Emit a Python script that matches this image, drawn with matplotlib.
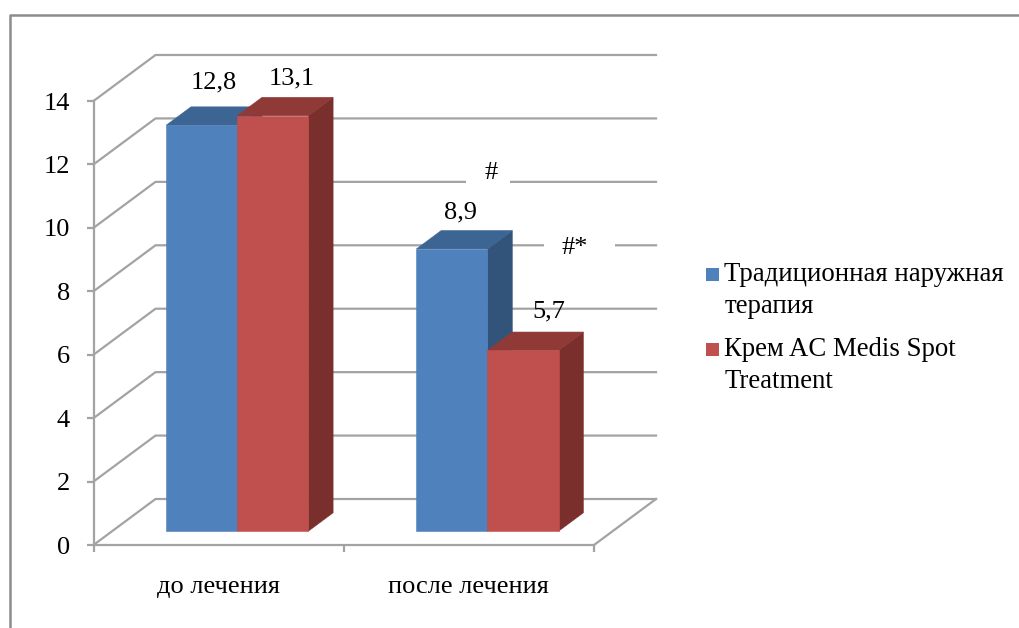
"""
Oblique pseudo-3D bar chart: two treatments before and after therapy.
"""
import matplotlib
matplotlib.use("Agg")
import matplotlib.pyplot as plt
from matplotlib.patches import Polygon, Rectangle

# ---------------------------------------------------------------------------
# Data
# ---------------------------------------------------------------------------

categories = ["до лечения", "после лечения"]
series_names = ["Традиционная наружная\nтерапия", "Крем AC Medis Spot\nTreatment"]
traditional = [12.8, 8.9]
cream = [13.1, 5.7]
y_ticks = [0, 2, 4, 6, 8, 10, 12, 14]

# ---------------------------------------------------------------------------
# Styles and layout (pixels)
# ---------------------------------------------------------------------------

W, H = 1019, 628
AX_LEFT, AX_RIGHT, AX_TOP, AX_BOTTOM = 93.5, 594, 101, 545
DEPTH_X, DEPTH_Y = 62, 46
BAR_WIDTH = 0.284
BAR_DEPTH = (0.30, 0.70)
GRAY = "#a3a3a3"
SERIF = "Liberation Serif"
FS = 19

BLUE = ("#4f81bd", "#3d6594", "#32547b")
RED = ("#c0504d", "#8f3a37", "#7a2f2d")

# label offsets from the front top centre of each bar, pixels
label_offsets = [[(12, 43), (8.5, 36)], [(19, 37), (25.5, 39)]]

plt.rcParams["font.family"] = [SERIF, "DejaVu Serif"]

fig = plt.figure(figsize=(W / 100, H / 100), dpi=100)
ax = fig.add_axes([
    AX_LEFT / W,
    1 - AX_BOTTOM / H,
    (AX_RIGHT - AX_LEFT) / W,
    (AX_BOTTOM - AX_TOP) / H,
])
ax.set_xlim(0, 2)
ax.set_ylim(0, 14)
ax.patch.set_alpha(0)

per_x = (AX_RIGHT - AX_LEFT) / 2
per_y = (AX_BOTTOM - AX_TOP) / 14


def proj(x, y, depth):
    """Data point pushed back along the oblique depth axis (depth 0..1)."""
    return (x + depth * DEPTH_X / per_x, y + depth * DEPTH_Y / per_y)


def draw_bar(x0, value, colors):
    """Front, top and side faces of one bar, returns its front top centre."""
    d0, d1 = BAR_DEPTH
    x1 = x0 + BAR_WIDTH
    front, top, side = colors
    faces = [
        (side, [proj(x1, 0, d0), proj(x1, 0, d1), proj(x1, value, d1), proj(x1, value, d0)]),
        (top, [proj(x0, value, d0), proj(x1, value, d0), proj(x1, value, d1), proj(x0, value, d1)]),
        (front, [proj(x0, 0, d0), proj(x1, 0, d0), proj(x1, value, d0), proj(x0, value, d0)]),
    ]
    for color, pts in faces:
        ax.add_patch(Polygon(pts, closed=True, facecolor=color, edgecolor=color, lw=0.4,
                             clip_on=False, zorder=3))
    return proj(x0 + BAR_WIDTH / 2, value, d0)


# ---------------------------------------------------------------------------
# Walls and grid
# ---------------------------------------------------------------------------

for v in y_ticks:
    pts = [proj(0, v, 0), proj(0, v, 1), proj(2, v, 1)]
    ax.plot(*zip(*pts), color=GRAY, lw=1.6, clip_on=False, zorder=1)
ax.plot(*zip(proj(2, 0, 0), proj(2, 0, 1)), color=GRAY, lw=1.6, clip_on=False, zorder=1)

# ---------------------------------------------------------------------------
# Bars
# ---------------------------------------------------------------------------

for i in range(len(categories)):
    x_left = i + 0.5 - BAR_WIDTH
    for j, (values, colors) in enumerate([(traditional, BLUE), (cream, RED)]):
        value = values[i]
        anchor = draw_bar(x_left + j * BAR_WIDTH, value, colors)
        ax.annotate(
            f"{value:.1f}".replace(".", ","),
            xy=anchor,
            xytext=label_offsets[j][i],
            textcoords="offset pixels",
            ha="center",
            va="center",
            fontsize=FS,
            color="black",
            zorder=5,
        )

# significance marks, the white boxes cut the grid lines
for s, px, py, gap_left, gap_right, gap_y in [
    ("#", 491, 172.5, 466, 510, 182),
    ("#*", 575, 248, 544, 615, 245),
]:
    fig.add_artist(Rectangle((gap_left / W, 1 - (gap_y + 6) / H), (gap_right - gap_left) / W, 12 / H,
                             transform=fig.transFigure, facecolor="white", edgecolor="none", zorder=4))
    fig.text(px / W, 1 - py / H, s, ha="center", va="center", fontsize=FS, color="black", zorder=5)

# ---------------------------------------------------------------------------
# Axes
# ---------------------------------------------------------------------------

for name in ("top", "right"):
    ax.spines[name].set_visible(False)
for name in ("left", "bottom"):
    ax.spines[name].set_color(GRAY)
    ax.spines[name].set_linewidth(1.6)
    ax.spines[name].set_zorder(2)

ax.set_yticks(y_ticks)
ax.set_xticks([0, 1, 2])
ax.set_xticklabels([])
ax.tick_params(axis="both", which="major", color=GRAY, width=1.6, length=5, direction="out")
ax.tick_params(axis="y", pad=12, labelsize=FS, labelcolor="black")
ax.set_xticks([0.5, 1.5], minor=True)
ax.set_xticklabels(categories, minor=True)
ax.tick_params(axis="x", which="minor", length=0, pad=22, labelsize=FS, labelcolor="black")

# ---------------------------------------------------------------------------
# Legend, drawn by hand so the marker stays on the first line of the label
# ---------------------------------------------------------------------------

for name, color, top_px, text_px in zip(series_names, (BLUE[0], RED[0]), (268, 343), (290.5, 365.5)):
    fig.add_artist(Rectangle((706 / W, 1 - (top_px + 12.5) / H), 12.5 / W, 12.5 / H,
                             transform=fig.transFigure, facecolor=color, edgecolor="none"))
    fig.text(724.5 / W, 1 - text_px / H, name, ha="left", va="center", fontsize=FS + 0.25,
             linespacing=1.42, color="black")

# outer frame, open at the right and the bottom
fig.add_artist(plt.Line2D([9.5 / W, 9.5 / W, 1], [0, 1 - 14.5 / H, 1 - 14.5 / H],
                          transform=fig.transFigure, color="#8c8c8c", lw=1.8))

fig.savefig("out.png", dpi=100)
plt.close(fig)
